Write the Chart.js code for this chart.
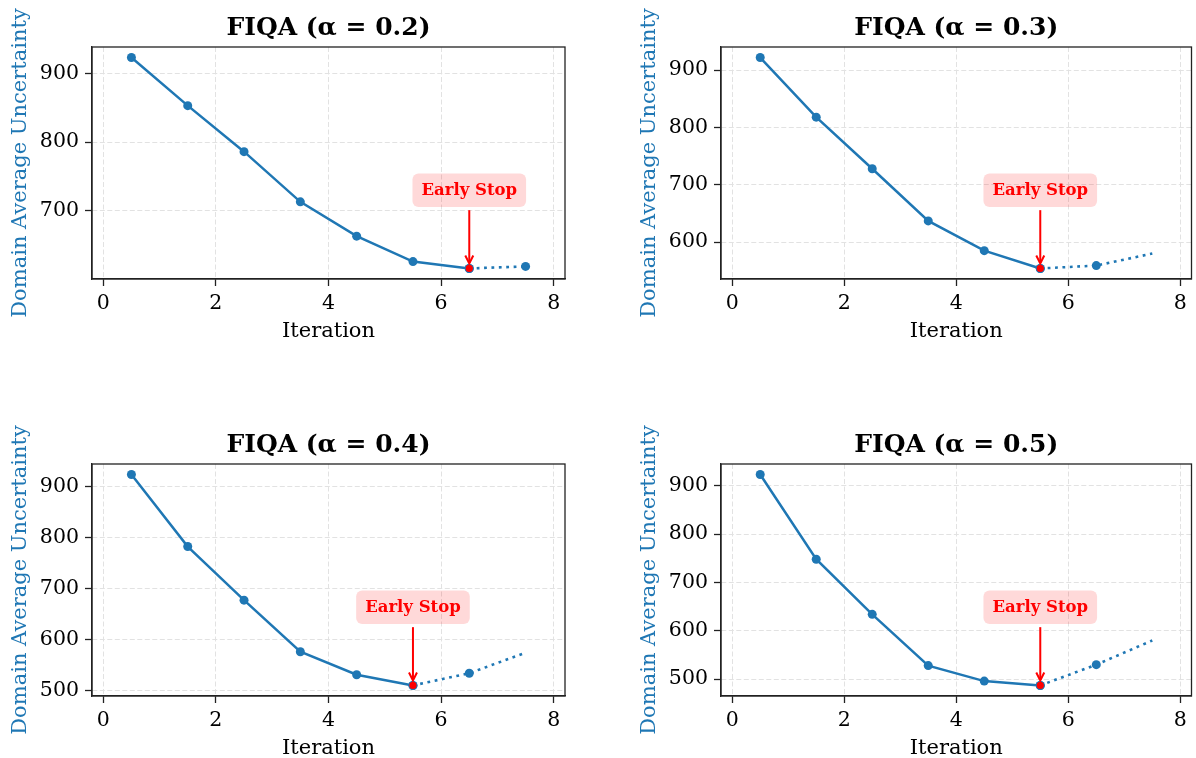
<!DOCTYPE html>
<html><head><meta charset="utf-8">
<script src="https://cdn.jsdelivr.net/npm/chart.js@4.4.0/dist/chart.umd.min.js"></script>
<style>
html,body{margin:0;padding:0;background:#fff;overflow:hidden;width:1196px;height:758px;}
canvas{position:absolute;}
</style></head><body>
<canvas id="c0" width="598" height="345" style="left:0px;top:0px"></canvas>
<canvas id="c1" width="567" height="345" style="left:629px;top:0px"></canvas>
<canvas id="c2" width="598" height="345" style="left:0px;top:417px"></canvas>
<canvas id="c3" width="567" height="345" style="left:629px;top:417px"></canvas>
<script>
// ---- data ----
const iterations = [0.5, 1.5, 2.5, 3.5, 4.5, 5.5, 6.5, 7.5];
const xTickValues = [0, 2, 4, 6, 8];
const yTickValues = [500, 600, 700, 800, 900];
const alphaLabels = ['0.2', '0.3', '0.4', '0.5'];
const uncertaintyA02 = [923, 853, 786, 713, 663, 626, 616, 619];
const uncertaintyA03 = [922, 818, 728, 637, 585, 554, 559, 580];
const uncertaintyA04 = [923, 782, 677, 576, 531, 510, 534, 574];
const uncertaintyA05 = [923, 748, 634, 528, 496, 487, 530, 580];
const earlyStopIndex = [6, 5, 5, 5];
const markedCount = [8, 7, 7, 7];
const annotationText = 'Early Stop';
const xLabel = 'Iteration';
const yLabel = 'Domain Average Uncertainty';

const seriesList = [uncertaintyA02, uncertaintyA03, uncertaintyA04, uncertaintyA05];
const BLUE = '#1f77b4';
const FONT = "'DejaVu Serif', 'Liberation Serif', serif";

const framePlugin = {
  id: 'frame',
  afterDatasetsDraw(chart) {
    const a = chart.chartArea, ctx = chart.ctx;
    ctx.save();
    ctx.strokeStyle = '#222';
    ctx.lineWidth = 1.3;
    ctx.strokeRect(a.left, a.top, a.right - a.left, a.bottom - a.top);
    ctx.restore();
  }
};

const earlyStopPlugin = {
  id: 'earlyStop',
  afterDatasetsDraw(chart) {
    const pt = chart.getDatasetMeta(0).data[0];
    if (!pt) return;
    const x = pt.x, y = pt.y;
    const ctx = chart.ctx;
    ctx.save();
    ctx.font = 'bold 16.5px ' + FONT;
    const tw = ctx.measureText(annotationText).width;
    const bw = tw + 18, bh = 33.5;
    const by = y - 95;
    ctx.fillStyle = 'rgba(255,0,0,0.15)';
    ctx.beginPath();
    ctx.roundRect(x - bw / 2, by, bw, bh, 6);
    ctx.fill();
    ctx.fillStyle = '#ff0000';
    ctx.textAlign = 'center';
    ctx.textBaseline = 'alphabetic';
    ctx.fillText(annotationText, x, y - 73.3);
    ctx.strokeStyle = '#ff0000';
    ctx.lineWidth = 2;
    ctx.beginPath();
    ctx.moveTo(x, y - 58.3);
    ctx.lineTo(x, y - 5.5);
    ctx.stroke();
    ctx.beginPath();
    ctx.moveTo(x - 4, y - 13);
    ctx.lineTo(x, y - 5);
    ctx.lineTo(x + 4, y - 13);
    ctx.stroke();
    ctx.restore();
  }
};

function makeChart(idx, padRight) {
  const vals = seriesList[idx];
  const stop = earlyStopIndex[idx];
  const lo = Math.min(...vals), hi = Math.max(...vals);
  const m = (hi - lo) * 0.05;
  const pts = iterations.map((x, i) => ({x: x, y: vals[i]}));
  const solid = pts.slice(0, stop + 1);
  const dotted = pts.slice(stop);
  const dottedRadius = dotted.map((p, j) => (stop + j < markedCount[idx] ? 4.5 : 0));

  new Chart(document.getElementById('c' + idx), {
    type: 'line',
    data: {
      datasets: [
        { data: [pts[stop]], showLine: false, pointRadius: 3.6, pointBackgroundColor: '#ff0000',
          pointBorderWidth: 0, borderColor: '#ff0000' },
        { data: solid, borderColor: BLUE, borderWidth: 2.5, pointRadius: 4.5, pointBackgroundColor: BLUE,
          pointBorderWidth: 0, tension: 0, fill: false },
        { data: dotted, borderColor: BLUE, borderWidth: 2.6, borderDash: [2.8, 4.6], borderCapStyle: 'butt',
          pointRadius: dottedRadius, pointBackgroundColor: BLUE, pointBorderWidth: 0, tension: 0, fill: false }
      ]
    },
    options: {
      responsive: false,
      animation: false,
      events: [],
      layout: { padding: { left: 0, right: padRight, top: 0, bottom: 0 } },
      plugins: {
        legend: { display: false },
        tooltip: { enabled: false },
        title: {
          display: true, fullSize: false,
          text: 'FIQA (\u03b1 = ' + alphaLabels[idx] + ')',
          color: '#000',
          font: { family: FONT, size: 25, weight: 'bold', lineHeight: 1.2 },
          padding: { top: 13.5, bottom: 3.5 }
        }
      },
      scales: {
        x: {
          type: 'linear', min: -0.2, max: 8.2,
          afterBuildTicks: s => { s.ticks = xTickValues.map(v => ({value: v})); },
          afterFit: s => { s.height = 66; },
          ticks: { color: '#000', font: { family: FONT, size: 20.5 }, padding: 5, maxRotation: 0,
                   callback: v => String(v) },
          grid: { color: '#e2e2e2', lineWidth: 1, tickLength: 7, tickColor: '#222', tickWidth: 1.3 },
          border: { display: true, color: '#222', width: 1.3, dash: [5, 2.5] },
          title: { display: true, text: xLabel, color: '#000', font: { family: FONT, size: 21, lineHeight: 1.2 },
                   padding: { top: 0, bottom: 1.1 } }
        },
        y: {
          type: 'linear', min: lo - m, max: hi + m,
          afterBuildTicks: s => { s.ticks = yTickValues.filter(v => v >= s.min && v <= s.max).map(v => ({value: v})); },
          afterFit: s => { s.width = 92; },
          ticks: { color: '#000', font: { family: FONT, size: 20.5 }, padding: 6, callback: v => String(v) },
          grid: { color: '#e2e2e2', lineWidth: 1, tickLength: 7, tickColor: '#222', tickWidth: 1.3 },
          border: { display: true, color: '#222', width: 1.3, dash: [5, 2.5] },
          title: { display: true, text: yLabel, color: BLUE, font: { family: FONT, size: 21, lineHeight: 1.2 },
                   padding: { top: 7.5, bottom: 0 } }
        }
      }
    },
    plugins: [framePlugin, earlyStopPlugin]
  });
}

makeChart(0, 33);
makeChart(1, 3);
makeChart(2, 33);
makeChart(3, 3);
</script>
</body></html>
